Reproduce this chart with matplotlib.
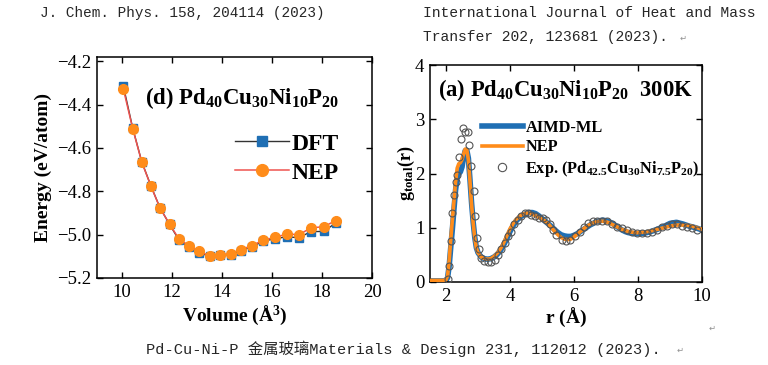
import matplotlib
matplotlib.use("Agg")
import matplotlib.pyplot as plt
from matplotlib.lines import Line2D

# ---- data: left panel (E-V curve) ----
volume = [10.05, 10.43, 10.79, 11.16, 11.52, 11.90, 12.28, 12.68, 13.07, 13.51, 13.91,
          14.35, 14.74, 15.20, 15.63, 16.13, 16.60, 17.08, 17.55, 18.07, 18.55]
e_dft = [-4.312, -4.509, -4.663, -4.776, -4.876, -4.952, -5.025, -5.058, -5.083, -5.100, -5.096,
         -5.092, -5.075, -5.056, -5.031, -5.018, -5.010, -5.014, -4.986, -4.985, -4.946]
e_nep = [-4.326, -4.511, -4.665, -4.777, -4.877, -4.951, -5.020, -5.051, -5.077, -5.097, -5.092,
         -5.088, -5.069, -5.051, -5.026, -5.012, -4.997, -5.000, -4.969, -4.963, -4.935]

# ---- data: right panel g(r) ----
r_nep = [1.50, 1.90, 2.00, 2.05, 2.10, 2.15, 2.20, 2.25, 2.30, 2.35, 2.40, 2.45, 2.50, 2.55,
         2.60, 2.65, 2.70, 2.75, 2.80, 2.85, 2.90, 2.95, 3.00, 3.10, 3.20, 3.30, 3.40, 3.50,
         3.60, 3.70, 3.80, 3.90, 4.00, 4.10, 4.20, 4.30, 4.40, 4.50, 4.60, 4.70, 4.80, 4.90,
         5.00, 5.10, 5.20, 5.30, 5.40, 5.50, 5.60, 5.70, 5.80, 5.90, 6.00, 6.10, 6.20, 6.30,
         6.40, 6.50, 6.60, 6.70, 6.80, 6.90, 7.00, 7.10, 7.20, 7.30, 7.40, 7.50, 7.60, 7.70,
         7.80, 7.90, 8.00, 8.20, 8.40, 8.60, 8.80, 9.00, 9.20, 9.40, 9.60, 9.80, 10.00]
g_nep = [0.03, 0.03, 0.04, 0.12, 0.40, 0.80, 1.15, 1.50, 1.85, 2.10, 2.18, 2.20, 2.26, 2.36,
         2.45, 2.44, 2.25, 1.85, 1.42, 1.08, 0.80, 0.62, 0.54, 0.46, 0.43, 0.42, 0.43, 0.47,
         0.53, 0.61, 0.72, 0.85, 0.98, 1.08, 1.16, 1.21, 1.25, 1.27, 1.27, 1.25, 1.22, 1.19,
         1.16, 1.12, 1.07, 1.00, 0.93, 0.87, 0.82, 0.79, 0.78, 0.79, 0.83, 0.88, 0.93, 0.98,
         1.03, 1.06, 1.09, 1.11, 1.12, 1.12, 1.11, 1.09, 1.06, 1.03, 1.00, 0.97, 0.95, 0.93,
         0.92, 0.91, 0.91, 0.92, 0.94, 0.97, 1.00, 1.03, 1.05, 1.05, 1.04, 1.01, 0.97]
r_aimd = r_nep
g_aimd = [0.02, 0.02, 0.03, 0.08, 0.30, 0.65, 0.98, 1.35, 1.70, 1.93, 2.00, 2.03, 2.12, 2.30,
          2.42, 2.43, 2.28, 1.88, 1.45, 1.10, 0.82, 0.63, 0.54, 0.46, 0.43, 0.42, 0.43, 0.46,
          0.51, 0.58, 0.68, 0.80, 0.93, 1.04, 1.13, 1.19, 1.23, 1.26, 1.28, 1.28, 1.26, 1.22,
          1.17, 1.12, 1.07, 1.02, 0.96, 0.91, 0.87, 0.85, 0.84, 0.84, 0.86, 0.89, 0.93, 0.97,
          1.01, 1.05, 1.08, 1.11, 1.13, 1.14, 1.13, 1.11, 1.08, 1.04, 1.00, 0.96, 0.93, 0.91,
          0.90, 0.89, 0.89, 0.90, 0.93, 0.97, 1.02, 1.08, 1.10, 1.07, 1.03, 1.00, 0.96]
r_exp = [2.05, 2.10, 2.15, 2.20, 2.25, 2.30, 2.35, 2.40, 2.47, 2.52, 2.60, 2.68, 2.73, 2.78,
         2.86, 2.92, 2.96, 3.03, 3.10, 3.20, 3.31, 3.41, 3.52, 3.62, 3.73, 3.83, 3.94, 4.04,
         4.14, 4.25, 4.35, 4.46, 4.56, 4.67, 4.77, 4.91, 5.03, 5.14, 5.24, 5.35, 5.45, 5.61,
         5.74, 5.87, 6.03, 6.18, 6.31, 6.45, 6.58, 6.73, 6.86, 7.02, 7.18, 7.33, 7.49, 7.65,
         7.81, 7.96, 8.12, 8.28, 8.43, 8.59, 8.75, 8.90, 9.06, 9.22, 9.37, 9.53, 9.69, 9.85]
g_exp = [0.05, 0.30, 0.75, 1.27, 1.60, 1.85, 1.98, 2.31, 2.63, 2.83, 2.77, 2.77, 2.53, 2.13,
         1.67, 1.21, 0.81, 0.60, 0.44, 0.38, 0.36, 0.36, 0.41, 0.50, 0.60, 0.72, 0.84, 0.93,
         1.06, 1.15, 1.22, 1.27, 1.28, 1.24, 1.21, 1.18, 1.18, 1.15, 1.06, 0.96, 0.87, 0.78,
         0.75, 0.77, 0.84, 0.93, 1.02, 1.09, 1.12, 1.13, 1.13, 1.12, 1.07, 1.02, 0.99, 0.96,
         0.93, 0.91, 0.91, 0.91, 0.93, 0.96, 1.01, 1.04, 1.06, 1.06, 1.04, 1.01, 0.99, 0.96]

plt.rcParams['font.family'] = ['Liberation Serif']
plt.rcParams['mathtext.fontset'] = 'custom'
plt.rcParams['mathtext.rm'] = 'Liberation Serif:bold'
plt.rcParams['mathtext.bf'] = 'Liberation Serif:bold'
plt.rcParams['mathtext.it'] = 'Liberation Serif:bold'
plt.rcParams['mathtext.default'] = 'rm'
plt.rcParams['axes.linewidth'] = 1.1
plt.rcParams['xtick.direction'] = 'in'
plt.rcParams['ytick.direction'] = 'in'
plt.rcParams['xtick.top'] = True
plt.rcParams['ytick.right'] = True

W, H = 768, 365
fig = plt.figure(figsize=(7.68, 3.65), dpi=100)


def box(l, t, r, b):
    return [l / W, 1 - b / H, (r - l) / W, (b - t) / H]


tick_fs = 13.5
lab_fs = 14

# ---------------- left panel ----------------
ax1 = fig.add_axes(box(97, 57, 372, 278))
ax1.plot(volume, e_dft, '-', color='#333333', lw=1.0, marker='s', ms=6.2,
         mfc='#1f6fb4', mec='#1f6fb4', zorder=3)
ax1.plot(volume, e_nep, '-', color='#ef5350', lw=1.1, marker='o', ms=7.0,
         mfc='#ff8c1a', mec='#ff8c1a', zorder=4)
ax1.set_xlim(9, 20)
ax1.set_ylim(-5.2, -4.18)
ax1.set_xticks([10, 12, 14, 16, 18, 20])
ax1.set_yticks([-5.2, -5.0, -4.8, -4.6, -4.4, -4.2])
ax1.set_yticklabels(['\u22125.2', '\u22125.0', '\u22124.8', '\u22124.6', '\u22124.4', '\u22124.2'])
ax1.tick_params(labelsize=tick_fs, length=4, width=1.0, pad=4)
ax1.set_xlabel(r'Volume ($\AA^3$)', fontsize=lab_fs, fontweight='bold')
ax1.set_ylabel('Energy (eV/atom)', fontsize=lab_fs, fontweight='bold')
ax1.xaxis.set_label_coords(0.5, (278 - 315) / 221)
ax1.xaxis.label.set_va('center')
ax1.yaxis.set_label_coords((43 - 97) / 275, 0.5)
ax1.yaxis.label.set_va('center')
ax1.text((145 - 97) / 275, (278 - 98) / 221,
         r'(d) Pd$_{40}$Cu$_{30}$Ni$_{10}$P$_{20}$',
         transform=ax1.transAxes, fontsize=16.5, fontweight='bold', ha='left', va='center')
h1 = [Line2D([], [], color='#333333', lw=1.0, marker='s', ms=7, mfc='#1f6fb4', mec='#1f6fb4'),
      Line2D([], [], color='#ef5350', lw=1.1, marker='o', ms=8.5, mfc='#ff8c1a', mec='#ff8c1a')]
ax1.legend(h1, ['DFT', 'NEP'], loc='upper left',
           bbox_to_anchor=((235 - 97) / 275, (278 - 133) / 221),
           frameon=False, borderpad=0, borderaxespad=0, handlelength=2.3,
           handletextpad=0.1, labelspacing=0.32, prop={'weight': 'bold', 'size': 17})

# ---------------- right panel ----------------
ax2 = fig.add_axes(box(430, 65, 702, 282))
ax2.plot(r_aimd, g_aimd, '-', color='#1f6fb4', lw=4.0, zorder=2)
ax2.plot(r_nep, g_nep, '-', color='#ff8c1a', lw=2.6, zorder=3)
ax2.plot(r_exp, g_exp, 'o', ms=5, mfc='none', mec='#555555', mew=0.8, zorder=4)
ax2.set_xlim(1.5, 10)
ax2.set_ylim(0, 4)
ax2.set_xticks([2, 4, 6, 8, 10])
ax2.set_yticks([0, 1, 2, 3, 4])
ax2.tick_params(labelsize=tick_fs, length=4, width=1.0, pad=4)
ax2.set_xlabel(r'r ($\AA$)', fontsize=lab_fs, fontweight='bold')
ax2.set_ylabel(r'g$_{total}$(r)', fontsize=13, fontweight='bold')
ax2.xaxis.set_label_coords(0.5, (282 - 317) / 217)
ax2.xaxis.label.set_va('center')
ax2.yaxis.set_label_coords((406 - 430) / 272, 0.5)
ax2.yaxis.label.set_va('center')
ax2.text((438 - 430) / 272, (282 - 90) / 217,
         r'(a) Pd$_{40}$Cu$_{30}$Ni$_{10}$P$_{20}$  300K',
         transform=ax2.transAxes, fontsize=16.3, fontweight='bold', ha='left', va='center')
h2 = [Line2D([], [], color='#1f6fb4', lw=4.0),
      Line2D([], [], color='#ff8c1a', lw=2.6),
      Line2D([], [], ls='none', marker='o', ms=6, mfc='none', mec='#555555', mew=0.8)]
ax2.legend(h2, ['AIMD-ML', 'NEP', r'Exp. (Pd$_{42.5}$Cu$_{30}$Ni$_{7.5}$P$_{20}$)'],
           loc='upper left', bbox_to_anchor=((482 - 430) / 272, (282 - 120) / 217),
           frameon=False, borderpad=0, borderaxespad=0, handlelength=2.5,
           handletextpad=0.15, labelspacing=0.2, prop={'weight': 'bold', 'size': 11.8})

# ---------------- surrounding document text ----------------
mono = ['Liberation Mono', 'Noto Sans CJK SC', 'DejaVu Sans']
tc = '#262626'
fig.text(40 / W, 1 - 13 / H, 'J. Chem. Phys. 158, 204114 (2023)', family=mono,
         fontsize=10.4, color=tc, va='center', ha='left')
fig.text(423 / W, 1 - 13 / H, 'International Journal of Heat and Mass', family=mono,
         fontsize=10.5, color=tc, va='center', ha='left')
fig.text(423 / W, 1 - 37 / H, 'Transfer 202, 123681 (2023).', family=mono,
         fontsize=10.5, color=tc, va='center', ha='left')
fig.text(146 / W, 1 - 349 / H, 'Pd-Cu-Ni-P 金属玻璃Materials & Design 231, 112012 (2023).',
         family=mono, fontsize=11.1, color=tc, va='center', ha='left')
for x, y in [(683, 38), (680, 350), (712, 328)]:
    fig.text(x / W, 1 - y / H, '\u21b5', family='DejaVu Sans', fontsize=6,
             color='#909090', va='center', ha='center')

fig.savefig('out.png', dpi=100)
